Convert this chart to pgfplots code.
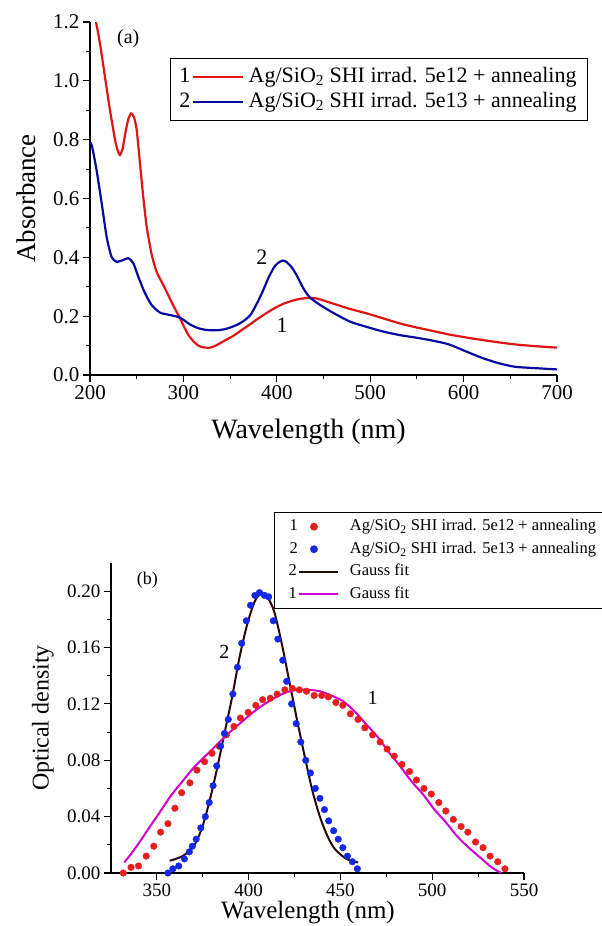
\documentclass[border=0pt]{standalone}
\usepackage{pgfplots}
\pgfplotsset{compat=1.18}
\usepackage{fontspec}
\setmainfont{Liberation Serif}

\definecolor{cred}{RGB}{225,20,20}
\definecolor{cblue}{RGB}{10,10,160}
\definecolor{dred}{RGB}{230,30,30}
\definecolor{dblue}{RGB}{20,40,230}
\definecolor{fitblack}{RGB}{40,10,10}
\definecolor{fitmag}{RGB}{210,0,210}

\newcommand{\fa}{\fontsize{22}{22}\selectfont}
\newcommand{\fb}{\fontsize{16.5}{16.5}\selectfont}

\pgfplotsset{
  paneltop/.style={
    scale only axis,
    axis x line*=bottom, axis y line*=left,
    axis line style={-, line width=1.2pt},
    tick align=outside,
    major tick length=7pt, minor tick length=4pt,
    every tick/.style={black, line width=1.1pt},
    minor tick num=1,
    /pgf/number format/assume math mode=true,
  },
  legA/.style={legend image code/.code={
    \draw[cred, line width=2.2pt] (-50pt,0pt) -- (0pt,0pt);
    \node[anchor=east, inner sep=0pt, text=black, font=\fa] at (-51pt,0pt) {1};}},
  legB/.style={legend image code/.code={
    \draw[cblue, line width=2.2pt] (-50pt,0pt) -- (0pt,0pt);
    \node[anchor=east, inner sep=0pt, text=black, font=\fa] at (-51pt,0pt) {2};}},
  legC/.style={legend image code/.code={
    \fill[dred] (-27pt,0pt) circle (3.3pt);
    \node[inner sep=0pt, text=black, font=\fb] at (-52pt,0pt) {1};}},
  legD/.style={legend image code/.code={
    \fill[dblue] (-27pt,0pt) circle (3.3pt);
    \node[inner sep=0pt, text=black, font=\fb] at (-52pt,0pt) {2};}},
  legE/.style={legend image code/.code={
    \draw[fitblack, line width=2pt] (-42pt,0pt) -- (-3pt,0pt);
    \node[anchor=east, inner sep=0pt, text=black, font=\fb] at (-43pt,0pt) {2};}},
  legF/.style={legend image code/.code={
    \draw[fitmag, line width=2pt] (-42pt,0pt) -- (-3pt,0pt);
    \node[anchor=east, inner sep=0pt, text=black, font=\fb] at (-43pt,0pt) {1};}},
}

\begin{document}
\begin{tikzpicture}

% (a) absorbance spectra
\begin{axis}[
  paneltop,
  at={(90pt,-375pt)}, anchor=south west,
  width=467pt, height=353pt,
  xmin=200, xmax=700, ymin=0, ymax=1.2,
  xtick={200,300,...,700},
  ytick={0,0.2,0.4,0.6,0.8,1.0,1.2},
  yticklabel style={/pgf/number format/.cd, fixed, fixed zerofill, precision=1},
  tick label style={font=\fontsize{21}{21}\selectfont},
  xlabel={Wavelength (nm)},
  ylabel={Absorbance},
  xlabel style={font=\fontsize{28}{28}\selectfont, at={(axis description cs:0.468,0)}, anchor=center, yshift=-57pt},
  ylabel style={font=\fontsize{27}{27}\selectfont, at={(axis description cs:-0.137,0.5)}, anchor=center},
  legend style={draw=black, line width=1.2pt, at={(rel axis cs:0.171,0.898)}, anchor=north west,
    font=\fa, inner xsep=9pt, inner ysep=6pt, row sep=0pt, column sep=3pt,
    nodes={text height=16pt, text depth=6pt, inner ysep=1.5pt, inner xsep=2pt}},
  legend cell align=left,
]
\addplot[cred, line width=2.2pt, smooth, tension=0.4, legA] table {
206.4 1.200
210.7 1.127
216 1.014
221.4 0.900
226.8 0.800
229.5 0.765
232 0.748
235 0.770
238 0.825
241 0.870
244 0.889
247 0.877
250 0.833
253.5 0.720
257 0.606
260.7 0.504
266 0.410
271.4 0.350
278.5 0.306
284 0.270
289.2 0.236
296 0.195
300 0.168
305 0.138
310.6 0.115
316 0.100
321.3 0.094
328.5 0.093
334 0.099
339.2 0.108
346 0.120
353.4 0.133
362 0.152
371.3 0.172
380 0.192
389.2 0.211
398 0.228
407 0.242
416 0.252
425 0.259
435 0.262
443 0.260
460 0.243
478 0.225
495.7 0.210
513.5 0.193
531 0.176
549 0.162
566.7 0.150
584 0.138
602 0.128
620 0.119
637.6 0.111
655 0.104
673 0.099
700 0.093
};
\addlegendentry{Ag/SiO\textsubscript{2} SHI irrad. 5e12 + annealing}
\addplot[cblue, line width=2.2pt, smooth, tension=0.4, legB] table {
200 0.790
202 0.780
207 0.697
212.5 0.584
217.8 0.470
223 0.402
228.5 0.385
235.7 0.391
241 0.397
246.4 0.380
251.7 0.334
258.9 0.278
266 0.238
275 0.212
285.7 0.204
296.4 0.195
307 0.172
316 0.159
325 0.153
336 0.152
346 0.157
357 0.170
365 0.185
372 0.205
379 0.245
385 0.285
391 0.330
397 0.366
401 0.380
406 0.389
410 0.385
416 0.366
422 0.335
428 0.297
435 0.265
446 0.239
460 0.212
478 0.182
495.7 0.164
513.5 0.148
531 0.136
549 0.127
566.7 0.117
584.4 0.104
602 0.081
619.9 0.058
637.6 0.040
655 0.028
673 0.024
700 0.019
};
\addlegendentry{Ag/SiO\textsubscript{2} SHI irrad. 5e13 + annealing}
\node[font=\fontsize{20}{20}\selectfont] at (axis cs:241,1.144) {(a)};
\node[font=\fontsize{22}{22}\selectfont] at (axis cs:384,0.40) {2};
\node[font=\fontsize{22}{22}\selectfont] at (axis cs:405.6,0.17) {1};
\end{axis}

% (b) Gaussian fits
\begin{axis}[
  paneltop,
  at={(111pt,-873pt)}, anchor=south west,
  width=413pt, height=310pt,
  xmin=325, xmax=550, ymin=0, ymax=0.22,
  clip=false,
  xtick={350,400,...,550},
  ytick={0,0.04,0.08,0.12,0.16,0.20},
  yticklabel style={/pgf/number format/.cd, fixed, fixed zerofill, precision=2},
  tick label style={font=\fontsize{19}{19}\selectfont},
  xlabel={Wavelength (nm)},
  ylabel={Optical density},
  xlabel style={font=\fontsize{25}{25}\selectfont, at={(axis description cs:0.477,0)}, anchor=center, yshift=-40pt},
  ylabel style={font=\fontsize{24}{24}\selectfont, at={(axis description cs:-0.165,0.5)}, anchor=center},
  legend style={draw=black, line width=1.2pt, at={(rel axis cs:0.395,1.165)}, anchor=north west,
    font=\fb, inner xsep=14pt, inner ysep=3pt, row sep=0pt, column sep=9pt,
    nodes={text height=13.5pt, text depth=5pt, inner ysep=2pt}},
  legend cell align=left,
]
\addplot[only marks, mark=*, mark size=3.3pt, dred, legC] table {
331.7 0.000
335.9 0.004
340 0.005
344.2 0.012
348.3 0.019
352 0.029
356 0.035
359.8 0.046
363.5 0.057
368 0.064
371.8 0.073
376 0.079
380 0.085
383.9 0.090
387.8 0.098
392 0.104
395.5 0.110
399.7 0.114
403.9 0.119
407.6 0.123
411.8 0.124
415.5 0.127
419.7 0.130
423.8 0.131
427.6 0.130
431.5 0.129
435.7 0.126
439.8 0.126
443.4 0.125
447.5 0.121
451.3 0.119
455.4 0.113
459.6 0.109
463.3 0.103
467.5 0.098
471.6 0.093
475.4 0.088
479.3 0.083
483.5 0.077
487.6 0.072
491.4 0.066
495.5 0.060
499.5 0.056
503.6 0.050
507.4 0.044
511.5 0.038
515.7 0.033
519.4 0.029
523.6 0.022
527.7 0.018
531.5 0.012
535.7 0.008
539.6 0.003
};
\addlegendentry{Ag/SiO\textsubscript{2} SHI irrad. 5e12 + annealing}
\addplot[only marks, mark=*, mark size=3.3pt, dblue, legD] table {
356 0.000
358.7 0.003
361.9 0.005
365 0.010
367.7 0.015
369.3 0.019
371.4 0.024
373.9 0.032
376.4 0.040
378.5 0.050
380.6 0.062
382.6 0.076
384.7 0.090
386.8 0.099
388.9 0.109
391.4 0.127
393.9 0.146
396.2 0.163
398.7 0.179
401 0.190
403.4 0.197
405.9 0.199
408.6 0.197
410.9 0.196
413.4 0.179
415.9 0.166
418.6 0.151
420.7 0.136
423.4 0.120
425.9 0.106
428.4 0.093
431.1 0.080
433.6 0.071
436.3 0.060
438.8 0.053
441.3 0.045
443.6 0.037
446.3 0.030
448.8 0.024
451.3 0.018
453.8 0.012
456.5 0.008
459.2 0.003
};
\addlegendentry{Ag/SiO\textsubscript{2} SHI irrad. 5e13 + annealing}
\addplot[fitblack, line width=2pt, smooth, legE] table {
357 0.0087
364 0.012
370 0.019
374.3 0.031
378.5 0.050
382.6 0.073
386.8 0.099
391 0.125
395 0.153
399.3 0.177
403.4 0.193
406.5 0.198
409.6 0.197
413.8 0.186
418 0.163
422 0.137
426.3 0.109
430.5 0.083
434.6 0.059
438.8 0.040
443 0.026
447 0.017
453.3 0.010
459.6 0.0075
};
\addlegendentry{Gauss fit}
\addplot[fitmag, line width=2pt, smooth, legF] table {
332.3 0.0075
339 0.019
345.2 0.031
351.5 0.043
357.7 0.055
363.9 0.065
370.2 0.075
376.4 0.083
382.6 0.091
388.9 0.099
395.1 0.106
401.4 0.113
407.6 0.119
413.8 0.124
420.1 0.128
426.3 0.130
432.5 0.130
438.8 0.129
445 0.126
451.3 0.122
457.5 0.115
463.7 0.106
470 0.097
476.2 0.086
482.4 0.076
488.7 0.065
494.9 0.056
501.2 0.045
507.4 0.036
513.6 0.026
519.9 0.018
526.1 0.011
532.4 0.004
537.6 0.000
};
\addlegendentry{Gauss fit}
\node[font=\fontsize{18}{18}\selectfont] at (axis cs:344.8,0.2075) {(b)};
\node[font=\fontsize{20}{20}\selectfont] at (axis cs:386.8,0.157) {2};
\node[font=\fontsize{20}{20}\selectfont] at (axis cs:467.5,0.124) {1};
\end{axis}

\pgfresetboundingbox
\path[use as bounding box] (0pt,0pt) rectangle (602pt,-926pt);
\end{tikzpicture}
\end{document}
